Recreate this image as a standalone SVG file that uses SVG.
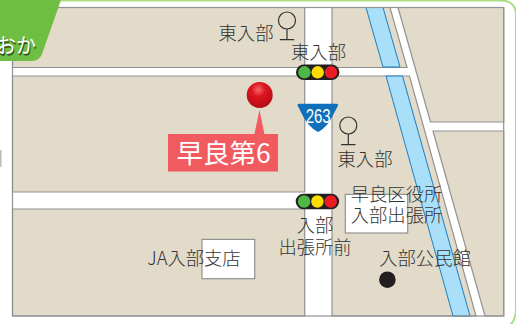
<svg xmlns="http://www.w3.org/2000/svg" width="516" height="324" viewBox="0 0 516 324">
<style>
.b{fill:#e2dbc9;stroke:#929292;stroke-width:1.2}
.t{font-family:"Noto Sans CJK JP","Liberation Sans",sans-serif;font-size:18.3px;fill:#333;text-anchor:middle;font-weight:300}
</style>
<defs>
<radialGradient id="pin" cx="0.45" cy="0.3" r="0.75"><stop offset="0" stop-color="#f46a6a"/><stop offset="0.35" stop-color="#dd1620"/><stop offset="1" stop-color="#b00a14"/></radialGradient>
<g id="sig"><rect x="-21.700" y="-7.800" width="43.400" height="15.600" rx="7.800" fill="#231f20"/><circle cx="-13.300" r="6.200" fill="#4db848"/><circle r="6.200" fill="#ffdd00"/><circle cx="13.300" r="6.200" fill="#ed1c24"/></g>
<g id="po"><circle cx="0" cy="0" r="8.500" fill="none" stroke="#333" stroke-width="1.200"/><path d="M0 8.500V19M-7.200 19.200H7.200" fill="none" stroke="#333" stroke-width="1.200"/></g>
</defs>
<rect width="516" height="324" fill="#fff"/>
<path d="M61 .5H500Q516 .5 516 15V308Q516 320 510 325" fill="none" stroke="#a9de84" stroke-width="2"/>
<g id="map">
<path class="b" d="M12.500 7.500H304.700V67.500H12.500Z"/>
<path class="b" d="M12.500 76H304.700V192H12.500Z"/>
<path class="b" d="M12.500 209H304.700V316H12.500Z"/>
<path class="b" d="M332 7.500H390L407 67.500H332Z"/>
<path class="b" d="M332 76H409.500L476 316H332Z"/>
<path class="b" d="M398 7.500H503.700V122H430.500Z"/>
<path class="b" d="M433 131H503.700V316H485Z"/>
<path d="M366 7.500H383L400 67H383Z" fill="#aadffa" stroke="#1b7fc4" stroke-width="1"/>
<path d="M386 76H402.500L470 316H453Z" fill="#aadffa" stroke="#1b7fc4" stroke-width="1"/>
<rect x="12.500" y="7.500" width="491.200" height="308.500" fill="none" stroke="#929292" stroke-width="1.200"/>
</g>
<g id="tag"><path d="M0 0H61L42 54Q39 61 32 61H0Z" fill="#6fbe44"/><text x="16" y="53" font-family="Noto Sans CJK JP,sans-serif" font-size="20" fill="#2f5a1c" text-anchor="middle" transform="translate(1 1.500)">おか</text><text x="16" y="53" font-family="Noto Sans CJK JP,sans-serif" font-size="20" fill="#fff" text-anchor="middle">おか</text></g>
<rect x="0" y="150" width="1.500" height="17" fill="#bbb"/>
<g id="poEast1" transform="translate(287 20.500)"><use href="#po"/></g>
<g id="poEast2" transform="translate(348.300 125.500)"><use href="#po"/></g>
<g id="sigEast" transform="translate(317.700 72.300)"><use href="#sig"/></g>
<g id="sigIribe" transform="translate(317.400 201.500)"><use href="#sig"/></g>
<g id="route263"><path d="M299 103.700H336.500Q338.500 103.700 337.800 106L332 117Q328 126 319 131.500Q318 132.200 317 131.500Q308 126 303.500 117L297.800 106Q297 103.700 299 103.700Z" fill="#0f6fba"/><text x="318.200" y="123" font-family="Liberation Sans,sans-serif" font-size="21" fill="#fff" text-anchor="middle" textLength="25" lengthAdjust="spacingAndGlyphs">263</text></g>
<g id="boxA"><rect x="345.300" y="194.400" width="62.400" height="38.600" fill="#fff" stroke="#929292" stroke-width="1.200"/></g>
<g id="boxB"><rect x="202" y="239.400" width="52.700" height="39.300" fill="#fff" stroke="#929292" stroke-width="1.200"/></g>
<g id="labels">
<text class="t" x="246" y="39.500">東入部</text>
<text class="t" x="318.500" y="58.500">東入部</text>
<text class="t" x="365" y="166">東入部</text>
<text class="t" x="396.500" y="200.500">早良区役所</text>
<text class="t" x="396.500" y="222">入部出張所</text>
<text class="t" x="315" y="232">入部</text>
<text class="t" x="315" y="254">出張所前</text>
<text class="t" x="194" y="265">JA入部支店</text>
<text class="t" x="425" y="265">入部公民館</text>
</g>
<circle id="kominkan" cx="387.400" cy="279.700" r="8.300" fill="#231f20"/>
<g id="marker"><path d="M259.500 110L254.300 134.500H264.500Z" fill="#f15a5f"/><rect x="168" y="134" width="110" height="37.500" fill="#f15a5f"/><text x="223.500" y="163" font-family="Noto Sans CJK JP,sans-serif" font-size="26.500" fill="#fff" text-anchor="middle">早良第6</text><circle cx="259.700" cy="95" r="13" fill="url(#pin)"/></g>
</svg>
